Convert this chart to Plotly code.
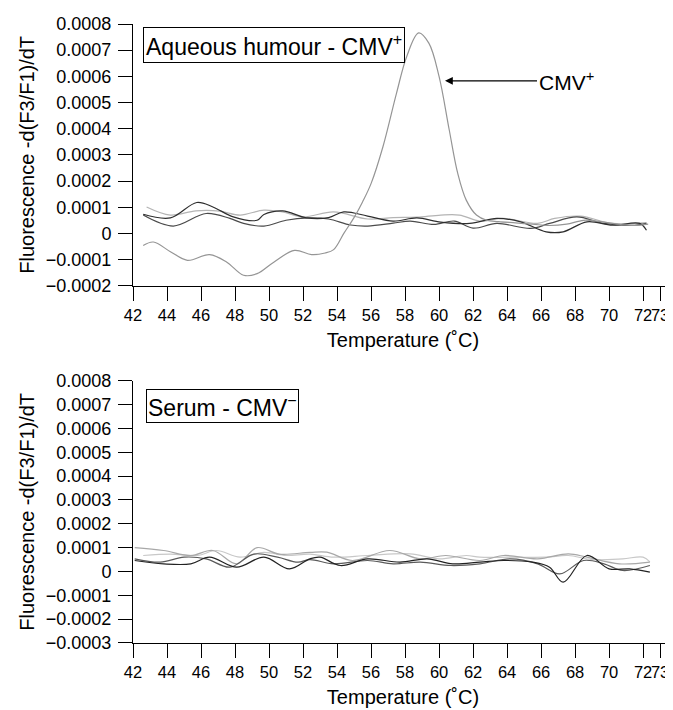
import plotly.graph_objects as go

# ---------------- data: top panel (aqueous humour) ----------------
top_peak_t = [42.6, 43.2, 44.2, 45.2, 46.5, 47.5, 48.5, 49.3, 50.3, 51.5, 52.5, 53.3, 53.8, 54.4,
              55.0, 55.5, 56.0, 56.7, 57.5, 58.1, 58.8, 59.4, 60.0, 60.6, 61.1, 61.6, 62.2, 62.8,
              63.5, 64.5, 65.5, 66.5, 67.5, 68.5, 69.5, 70.5, 71.5, 72.3]
top_peak_v = [-0.000046, -0.000033, -0.000070, -0.000103, -0.000081, -0.000109, -0.000160, -0.000154,
              -0.000109, -0.000065, -0.000081, -0.000075, -0.000062, 0.000000, 0.000060, 0.000120,
              0.000190, 0.000331, 0.000536, 0.000676, 0.000766, 0.000727, 0.000600, 0.000395,
              0.000229, 0.000127, 0.000070, 0.000050, 0.000045, 0.000040, 0.000035, 0.000030,
              0.000035, 0.000050, 0.000045, 0.000035, 0.000030, 0.000035]

top_dark1_t = [42.6, 44.2, 45.75, 46.7, 47.9, 49.3, 49.7, 50.8, 52.2, 53.5, 54.4, 55.8, 57.3, 58.7,
               60.1, 61.8, 63.4, 64.8, 66.3, 67.3, 68.7, 70.2, 71.8, 72.2]
top_dark1_v = [0.000073, 0.000059, 0.000118, 0.000101, 0.000063, 0.000050, 0.000072, 0.000086,
               0.000059, 0.000060, 0.000082, 0.000066, 0.000047, 0.000059, 0.000043, 0.000038,
               0.000057, 0.000044, 0.000006, 0.000006, 0.000044, 0.000031, 0.000038, 0.000012]

top_dark2_t = [42.6, 44.37, 46.3, 47.7, 48.5, 49.7, 51.0, 52.3, 53.5, 54.8, 55.8, 57.3, 58.3, 59.7,
               60.9, 62.0, 63.4, 65.4, 66.5, 68.1, 69.7, 71.5, 72.2]
top_dark2_v = [0.000070, 0.000028, 0.000076, 0.000057, 0.000038, 0.000028, 0.000050, 0.000059,
               0.000055, 0.000032, 0.000028, 0.000039, 0.000047, 0.000034, 0.000047, 0.000020,
               0.000038, 0.000019, 0.000038, 0.000063, 0.000038, 0.000031, 0.000038]

top_light_t = [42.8, 44.2, 45.7, 47.1, 48.3, 49.7, 50.8, 52.0, 53.8, 55.8, 57.3, 58.7, 60.1, 61.2,
               62.4, 63.8, 65.8, 66.8, 68.3, 70.2, 72.2]
top_light_v = [0.000101, 0.000070, 0.000086, 0.000085, 0.000070, 0.000089, 0.000082, 0.000063,
               0.000082, 0.000055, 0.000060, 0.000062, 0.000070, 0.000070, 0.000047, 0.000057,
               0.000038, 0.000057, 0.000066, 0.000038, 0.000041]

# ---------------- data: bottom panel (serum) ----------------
bot_dark_t = [42.1, 43.8, 45.4, 46.5, 48.1, 49.7, 51.2, 52.4, 53.0, 54.2, 55.8, 57.7, 59.3, 60.8,
              62.4, 63.8, 65.5, 66.5, 67.3, 68.7, 70.0, 71.2, 72.4]
bot_dark_v = [0.000046, 0.000032, 0.000032, 0.000060, 0.000018, 0.000060, 0.000011, 0.000053,
              0.000060, 0.000025, 0.000053, 0.000039, 0.000053, 0.000032, 0.000039, 0.000046,
              0.000039, 0.000018, -0.000045, 0.000067, 0.000011, 0.000011, -0.000003]

bot_med_t = [42.1, 43.6, 45.0, 46.3, 47.7, 49.1, 50.5, 51.7, 52.4, 53.8, 55.8, 57.3, 58.9, 60.7,
             62.4, 64.2, 65.8, 67.1, 68.5, 69.7, 70.8, 72.4]
bot_med_v = [0.000053, 0.000039, 0.000060, 0.000053, 0.000018, 0.000073, 0.000060, 0.000039,
             0.000050, 0.000032, 0.000046, 0.000032, 0.000039, 0.000025, 0.000032, 0.000053,
             0.000032, -0.000010, 0.000046, 0.000032, 0.000004, 0.000025]

bot_light_t = [42.1, 43.8, 45.4, 46.7, 48.1, 49.3, 50.6, 52.4, 53.4, 54.9, 57.1, 58.9, 60.4, 62.4,
               63.8, 65.8, 67.6, 68.7, 70.6, 72.4]
bot_light_v = [0.000100, 0.000088, 0.000067, 0.000088, 0.000032, 0.000100, 0.000073, 0.000080,
               0.000081, 0.000046, 0.000088, 0.000053, 0.000067, 0.000046, 0.000067, 0.000053,
               0.000074, 0.000060, 0.000032, 0.000039]

bot_light2_t = [42.6, 44.2, 45.8, 46.9, 48.3, 49.7, 51.0, 52.4, 53.8, 55.8, 58.3, 60.0, 61.6, 62.4,
                64.3, 66.3, 67.6, 69.0, 70.8, 72.0, 72.4]
bot_light2_v = [0.000067, 0.000073, 0.000067, 0.000088, 0.000060, 0.000080, 0.000067, 0.000073,
                0.000060, 0.000067, 0.000074, 0.000053, 0.000067, 0.000060, 0.000060, 0.000060,
                0.000067, 0.000050, 0.000053, 0.000060, 0.000040]

# ---------------- axis ticks ----------------
x_tickvals = [42, 44, 46, 48, 50, 52, 54, 56, 58, 60, 62, 64, 66, 68, 70, 72, 73]
x_ticktext = ["42", "44", "46", "48", "50", "52", "54", "56", "58", "60", "62", "64", "66", "68",
              "70", "72", "73"]
top_y_tickvals = [0.0008, 0.0007, 0.0006, 0.0005, 0.0004, 0.0003, 0.0002, 0.0001, 0, -0.0001, -0.0002]
top_y_ticktext = ["0.0008", "0.0007", "0.0006", "0.0005", "0.0004", "0.0003", "0.0002", "0.0001",
                  "0", "\u22120.0001", "\u22120.0002"]
bot_y_tickvals = [0.0008, 0.0007, 0.0006, 0.0005, 0.0004, 0.0003, 0.0002, 0.0001, 0, -0.0001,
                  -0.0002, -0.0003]
bot_y_ticktext = ["0.0008", "0.0007", "0.0006", "0.0005", "0.0004", "0.0003", "0.0002", "0.0001",
                  "0", "\u22120.0001", "\u22120.0002", "\u22120.0003"]

FONT = "Liberation Sans, Arial, sans-serif"

fig = go.Figure()


def add_line(t, v, color, xa, ya):
    fig.add_trace(go.Scatter(x=t, y=v, mode="lines", xaxis=xa, yaxis=ya,
                             line=dict(color=color, width=1.2, shape="spline", smoothing=1.0),
                             showlegend=False, hoverinfo="skip"))


add_line(top_light_t, top_light_v, "#b4b4b4", "x", "y")
add_line(top_dark2_t, top_dark2_v, "#4a4a4a", "x", "y")
add_line(top_dark1_t, top_dark1_v, "#2e2e2e", "x", "y")
add_line(top_peak_t, top_peak_v, "#959595", "x", "y")

add_line(bot_light2_t, bot_light2_v, "#c8c8c8", "x2", "y2")
add_line(bot_light_t, bot_light_v, "#a8a8a8", "x2", "y2")
add_line(bot_med_t, bot_med_v, "#5a5a5a", "x2", "y2")
add_line(bot_dark_t, bot_dark_v, "#222222", "x2", "y2")

xaxis_common = dict(range=[42, 73.76], tickvals=x_tickvals, ticktext=x_ticktext, tickangle=0,
                    automargin=False,
                    showline=True, linecolor="black", linewidth=1, ticks="outside",
                    ticklen=14, tickwidth=1, tickcolor="black", showgrid=False, zeroline=False,
                    tickfont=dict(size=16.5, color="black", family=FONT),
                    title=dict(text="Temperature (\u02daC)", standoff=10,
                               font=dict(size=20, color="black", family=FONT)))
yaxis_common = dict(automargin=False, ticklabelstandoff=3,
                    showline=True, linecolor="black", linewidth=1, ticks="outside",
                    ticklen=14, tickwidth=1, tickcolor="black", showgrid=False, zeroline=False,
                    tickfont=dict(size=18, color="black", family=FONT),
                    title=dict(text="Fluorescence -d(F3/F1)/dT", standoff=5,
                               font=dict(size=20, color="black", family=FONT)))

# the page body adds an 8 px offset, so the figure is sized to the remaining window
fig.update_layout(
    width=665, height=702,
    margin=dict(l=125, r=0, t=16, b=67),
    plot_bgcolor="white", paper_bgcolor="white",
    font=dict(family=FONT, color="black"),
    xaxis=dict(xaxis_common, anchor="y", domain=[0, 1]),
    yaxis=dict(yaxis_common, anchor="x", domain=[0.5772, 1.0], range=[-0.0002, 0.0008],
               tickvals=top_y_tickvals, ticktext=top_y_ticktext),
    xaxis2=dict(xaxis_common, anchor="y2", domain=[0, 1]),
    yaxis2=dict(yaxis_common, anchor="x2", domain=[0, 0.4237], range=[-0.0003, 0.0008],
                tickvals=bot_y_tickvals, ticktext=bot_y_ticktext),
)

fig.add_annotation(xref="paper", yref="paper", x=0.018, y=0.9956, xanchor="left", yanchor="top",
                   text="Aqueous humour - CMV<sup>+</sup>", showarrow=False,
                   font=dict(size=23, color="black", family=FONT),
                   bordercolor="black", borderwidth=1, borderpad=2, bgcolor="white")
fig.add_annotation(xref="paper", yref="paper", x=0.0235, y=0.4097, xanchor="left", yanchor="top",
                   text="Serum - CMV<sup>\u2212</sup>", showarrow=False,
                   font=dict(size=23, color="black", family=FONT),
                   bordercolor="black", borderwidth=1, borderpad=1, bgcolor="white")
fig.add_annotation(xref="x", yref="y", x=60.35, y=0.000583, ax=121, ay=0,
                   text="CMV<sup>+</sup>", showarrow=True, arrowhead=2, arrowsize=1.3,
                   arrowwidth=1.2, arrowcolor="black",
                   font=dict(size=21, color="black", family=FONT))

fig.write_html("out.html")
